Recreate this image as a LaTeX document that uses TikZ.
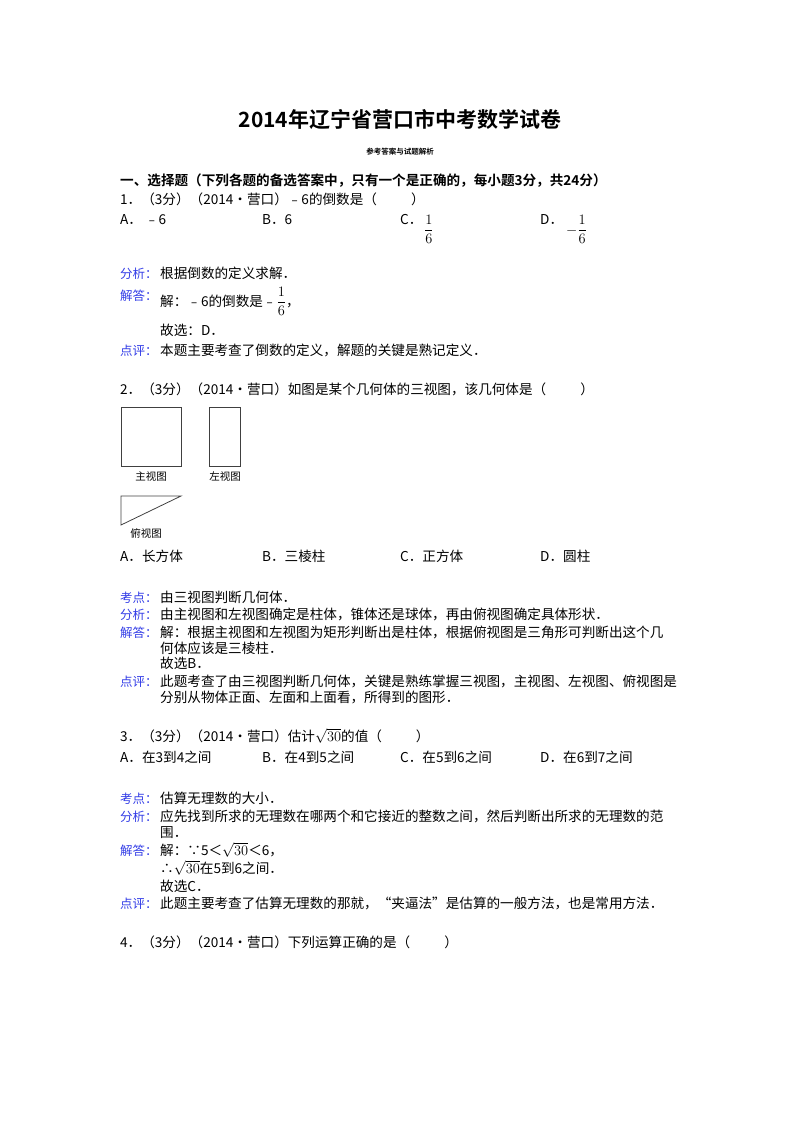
\documentclass[tikz,border=0pt]{standalone}
\usepackage{fontspec}
\setmainfont{Liberation Serif}
\newfontfamily\cjk{Noto Sans CJK SC}
\newfontfamily\cjkb{Noto Sans CJK SC Bold}
\definecolor{lab}{RGB}{50,60,230}
\newcommand{\myfr}{\ensuremath{\displaystyle\frac{1}{6}}}
\begin{document}
\begin{tikzpicture}[x=1pt,y=-1pt,
  t/.style={anchor=base west,inner sep=0pt,font=\fontsize{13.6}{15}\selectfont\cjk},
  lb/.style={anchor=base west,inner sep=0pt,font=\fontsize{12.5}{15}\selectfont\cjk,text=lab},
  fig/.style={draw=black!75,line width=0.8pt}]
\useasboundingbox (0,0) rectangle (800,1132);
\node[anchor=base,inner sep=0pt,font=\fontsize{21}{24}\selectfont\cjkb] (title) at (400,127) {2014年辽宁省营口市中考数学试卷};
\node[anchor=base,inner sep=0pt,font=\fontsize{7.5}{9}\selectfont\cjkb] (sub) at (400,154) {参考答案与试题解析};
\node[anchor=base west,inner sep=0pt,font=\fontsize{13.6}{15}\selectfont\cjkb] (sec) at (120,185) {一、选择题（下列各题的备选答案中，只有一个是正确的，每小题3分，共24分）};
% Q1
\node[t] (q1) at (120,204) {1．（3分）（2014•营口）﹣6的倒数是（\hspace{2.5em}）};
\node[t] (q1a) at (120,224) {A．\ ﹣6};
\node[t] (q1b) at (262,224) {B．6};
\node[t] (q1c) at (400,224) {C．};
\node[t] (q1cf) at (424,234) {\myfr};
\node[t] (q1d) at (540,224) {D．};
\node[t] (q1df) at (566,234) {$\displaystyle-\frac{1}{6}$};
\node[lb] (l1) at (120,278) {分析：};
\node[t] (c1) at (160,278) {根据倒数的定义求解．};
\node[lb] (l2) at (120,300) {解答：};
\node[t] (c2) at (160,306) {解：﹣6的倒数是﹣\myfr，};
\node[t] (c3) at (160,335) {故选：D．};
\node[lb] (l3) at (120,355) {点评：};
\node[t] (c4) at (160,355) {本题主要考查了倒数的定义，解题的关键是熟记定义．};
% Q2
\node[t] (q2) at (120,394) {2．（3分）（2014•营口）如图是某个几何体的三视图，该几何体是（\hspace{2.5em}）};
\draw[fig] (121,407) rectangle (181,466);
\node[anchor=base,inner sep=0pt,font=\fontsize{10.5}{12}\selectfont\cjk] (f1) at (151,480) {主视图};
\draw[fig] (209,407) rectangle (240,466);
\node[anchor=base,inner sep=0pt,font=\fontsize{10.5}{12}\selectfont\cjk] (f2) at (225,480) {左视图};
\draw[fig] (121,496) -- (181,496) -- (121,525) -- cycle;
\node[anchor=base,inner sep=0pt,font=\fontsize{10.5}{12}\selectfont\cjk] (f3) at (146,537) {俯视图};
\node[t] (q2a) at (120,561) {A．长方体};
\node[t] (q2b) at (262,561) {B．三棱柱};
\node[t] (q2c) at (400,561) {C．正方体};
\node[t] (q2d) at (540,561) {D．圆柱};
\node[lb] (m1) at (120,602) {考点：};
\node[t] (d1) at (160,602) {由三视图判断几何体．};
\node[lb] (m2) at (120,619) {分析：};
\node[t] (d2) at (160,619) {由主视图和左视图确定是柱体，锥体还是球体，再由俯视图确定具体形状．};
\node[lb] (m3) at (120,637) {解答：};
\node[t] (d3) at (160,637) {解：根据主视图和左视图为矩形判断出是柱体，根据俯视图是三角形可判断出这个几};
\node[t] (d3b) at (160,653) {何体应该是三棱柱．};
\node[t] (d3c) at (160,668) {故选B．};
\node[lb] (m4) at (120,686) {点评：};
\node[t] (d4) at (160,686) {此题考查了由三视图判断几何体，关键是熟练掌握三视图，主视图、左视图、俯视图是};
\node[t] (d4b) at (160,702) {分别从物体正面、左面和上面看，所得到的图形．};
% Q3
\node[t] (q3) at (120,741) {3．（3分）（2014•营口）估计$\sqrt{30}$的值（\hspace{2.5em}）};
\node[t] (q3a) at (120,762) {A．在3到4之间};
\node[t] (q3b) at (262,762) {B．在4到5之间};
\node[t] (q3c) at (400,762) {C．在5到6之间};
\node[t] (q3d) at (540,762) {D．在6到7之间};
\node[lb] (n1) at (120,803) {考点：};
\node[t] (e1) at (160,803) {估算无理数的大小．};
\node[lb] (n2) at (120,821) {分析：};
\node[t] (e2) at (160,821) {应先找到所求的无理数在哪两个和它接近的整数之间，然后判断出所求的无理数的范};
\node[t] (e2b) at (160,837) {围．};
\node[lb] (n3) at (120,855) {解答：};
\node[t] (e3) at (160,855) {解：∵5＜$\sqrt{30}$＜6，};
\node[t] (e3b) at (160,873) {∴$\sqrt{30}$在5到6之间．};
\node[t] (e3c) at (160,891) {故选C．};
\node[lb] (n4) at (120,908) {点评：};
\node[t] (e4) at (160,908) {此题主要考查了估算无理数的那就，“夹逼法”是估算的一般方法，也是常用方法．};
% Q4
\node[t] (q4) at (120,947) {4．（3分）（2014•营口）下列运算正确的是（\hspace{2.5em}）};
\end{tikzpicture}
\end{document}
